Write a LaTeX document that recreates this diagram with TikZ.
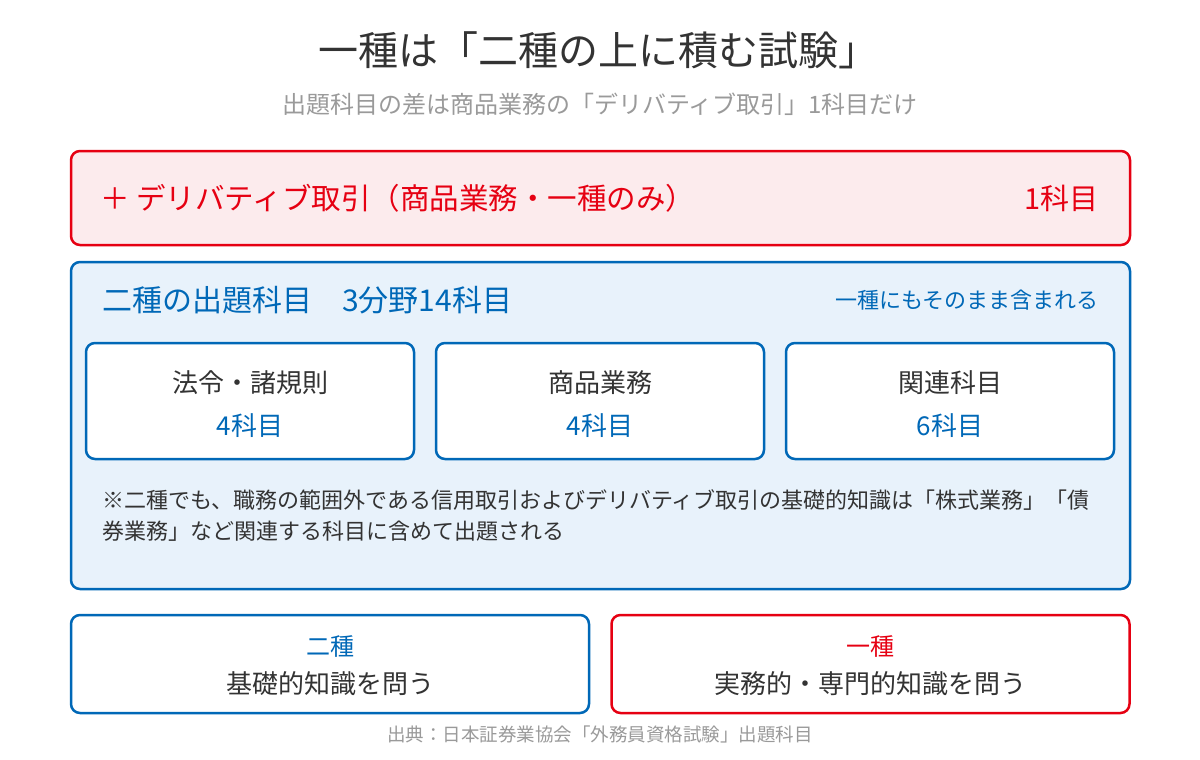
\documentclass[tikz,border=0pt]{standalone}
\usepackage{fontspec}
\setmainfont{Noto Sans CJK JP}
\usepackage{xcolor}
\usetikzlibrary{positioning}
\definecolor{ichired}{HTML}{E60012}
\definecolor{nishublue}{HTML}{0068B7}
\definecolor{redfill}{HTML}{FCEBED}
\definecolor{bluefill}{HTML}{E8F2FB}
\definecolor{inkdark}{HTML}{333333}
\definecolor{inkgray}{HTML}{9A9A9A}
\newcommand{\fs}[1]{\fontsize{#1}{#1}\selectfont}
\tikzset{
panel/.style = { rectangle, draw = #1, line width = 2.5pt, rounded corners = 9pt, inner sep = 0pt},
wide panel/.style = { panel = #1, minimum width = 1059pt },
field box/.style = { panel = nishublue, fill = white, minimum width = 328pt, minimum height = 116pt },
half box/.style = { panel = #1, fill = white, minimum width = 518pt, minimum height = 98pt },
label/.style = { inner sep = 0pt, text = #1 },
}
\begin{document}
\begin{tikzpicture}[x = 1pt, y = -1pt]
    \useasboundingbox[fill = white] (0, 0) rectangle (1200, 760);
    % heading
    \node[label = inkdark, font = \fs{40}] (title) at (598, 50) {一種は「二種の上に積む試験」};
    \node[label = inkgray, font = \fs{24}] (subtitle) at (600, 104) {出題科目の差は商品業務の「デリバティブ取引」1科目だけ};
    % derivative row
    \node[wide panel = ichired, fill = redfill, minimum height = 94pt] (extra) at (600.5, 198) {};
    \node[label = ichired, font = \fs{29.5}, anchor = west] (extratext) at (100, 198) {＋ デリバティブ取引（商品業務・一種のみ）};
    \node[label = ichired, font = \fs{29}, anchor = east] (extracount) at (1099, 198) {1科目};
    % nishu subjects
    \node[wide panel = nishublue, fill = bluefill, minimum height = 327pt] (base) at (600.5, 425.5) {};
    \node[label = nishublue, font = \fs{30}, anchor = west] (basetitle) at (102, 300) {二種の出題科目\quad 3分野14科目};
    \node[label = nishublue, font = \fs{22}, anchor = east] (basenote) at (1099, 300) {一種にもそのまま含まれる};
    \node[field box] (law) at (250, 401) {};
    \node[field box] (goods) at (600, 401) {};
    \node[field box] (related) at (950, 401) {};
    \node[label = inkdark, font = \fs{26}] (lawname) at (250, 383) {法令・諸規則};
    \node[label = nishublue, font = \fs{26}] (lawcount) at (250, 426) {4科目};
    \node[label = inkdark, font = \fs{26}] (goodsname) at (600, 383) {商品業務};
    \node[label = nishublue, font = \fs{26}] (goodscount) at (600, 426) {4科目};
    \node[label = inkdark, font = \fs{26}] (relatedname) at (950, 383) {関連科目};
    \node[label = nishublue, font = \fs{26}] (relatedcount) at (950, 426) {6科目};
    \node[label = inkdark, font = \fs{22}, anchor = north west, align = left] (remark) at (102, 489)
        {※二種でも、職務の範囲外である信用取引およびデリバティブ取引の基礎的知識は「株式業務」「債\\[9pt]券業務」など関連する科目に含めて出題される};
    % comparison
    \node[half box = nishublue] (nishu) at (330, 664) {};
    \node[half box = ichired] (isshu) at (870.5, 664) {};
    \node[label = nishublue, font = \fs{24}] (nishuname) at (330, 646) {二種};
    \node[label = inkdark, font = \fs{26}] (nishutext) at (330, 684) {基礎的知識を問う};
    \node[label = ichired, font = \fs{24}] (isshuname) at (870.5, 646) {一種};
    \node[label = inkdark, font = \fs{26}] (isshutext) at (870.5, 684) {実務的・専門的知識を問う};
    \node[label = inkgray, font = \fs{18.5}] (source) at (600, 734) {出典：日本証券業協会「外務員資格試験」出題科目};
\end{tikzpicture}
\end{document}
